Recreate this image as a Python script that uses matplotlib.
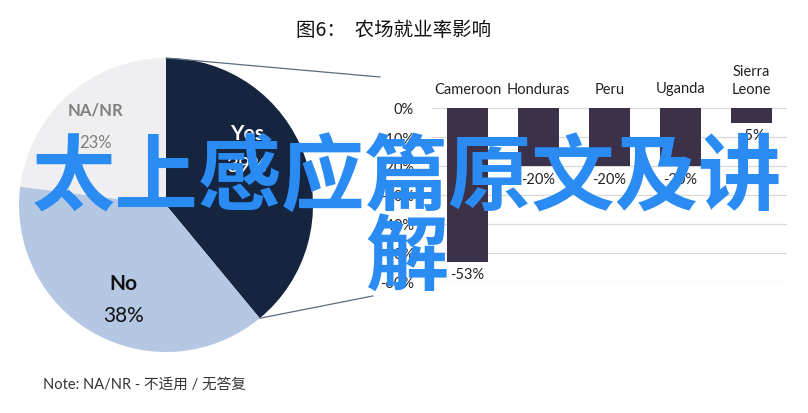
import matplotlib.pyplot as plt
from matplotlib.patches import ConnectionPatch
import numpy as np

plt.rcParams['font.family'] = ['Lato', 'Noto Sans CJK SC', 'DejaVu Sans']

pie_labels = ["Yes", "No", "NA/NR"]
pie_values = [39, 38, 23]
pie_colors = ["#15253f", "#b5c8e3", "#efeff1"]

countries = ["Cameroon", "Honduras", "Peru", "Uganda", "Sierra\nLeone"]
impact = [-53, -20, -20, -20, -5]
yticks = [0, -10, -20, -30, -40, -50, -60]

W, H = 808, 414
fig = plt.figure(figsize=(W / 100, H / 100), dpi=100)

# pie
cx, cy, r = 166, 206, 147
ax_pie = fig.add_axes([(cx - r) / W, (H - cy - r) / H, 2 * r / W, 2 * r / H])
wedges, _ = ax_pie.pie(pie_values, colors=pie_colors, startangle=90, counterclock=False,
                       radius=1, wedgeprops=dict(linewidth=0))
ax_pie.set_xlim(-1, 1)
ax_pie.set_ylim(-1, 1)
ax_pie.set_aspect('equal')
ax_pie.axis('off')

txt_style = {
    "Yes": dict(color="white", pos=(0.55, 0.40), fs=15),
    "No": dict(color="#111111", pos=(-0.29, -0.62), fs=15),
    "NA/NR": dict(color="#7f7f7f", pos=(-0.48, 0.56), fs=12),
}
for lab, val in zip(pie_labels, pie_values):
    s = txt_style[lab]
    x, y = s["pos"]
    ax_pie.text(x, y + 0.09, lab, ha='center', va='center', fontsize=s["fs"],
                fontweight='bold', color=s["color"])
    ax_pie.text(x, y - 0.13, f"{val}%", ha='center', va='center', fontsize=s["fs"],
                color=s["color"])

# bars
bl, bt, bw, bh = 432, 109, 355, 174
ax_bar = fig.add_axes([bl / W, (H - bt - bh) / H, bw / W, bh / H])
xs = np.arange(len(countries))
ax_bar.bar(xs, impact, width=0.58, color="#3b3148", zorder=3)
ax_bar.set_xlim(-0.5, len(countries) - 0.5)
ax_bar.set_ylim(-60, 0)
ax_bar.set_yticks(yticks)
ax_bar.set_yticklabels([f"{v}%" for v in yticks], fontsize=10.5, color="#222222")
ax_bar.yaxis.grid(True, color="#d9d9d9", linewidth=0.9, zorder=0)
ax_bar.xaxis.tick_top()
ax_bar.set_xticks(xs)
ax_bar.set_xticklabels(countries, fontsize=10.5, color="#222222", linespacing=1.3)
ax_bar.tick_params(length=0, axis='x', pad=9)
ax_bar.tick_params(length=0, axis='y', pad=13)
for s in ax_bar.spines.values():
    s.set_visible(False)
for x, v in zip(xs, impact):
    ax_bar.annotate(f"{v}%", (x, v), xytext=(0, -4), textcoords='offset points',
                    ha='center', va='top', fontsize=10.5, color="#222222")

# connector lines from pie to bar chart
a0 = np.deg2rad(90)
a1 = np.deg2rad(90 - 360 * pie_values[0] / sum(pie_values))
for ang, target in [(a0, (-0.146, 1.178)), (a1, (-0.166, -0.08))]:
    con = ConnectionPatch(xyA=(np.cos(ang), np.sin(ang)), coordsA=ax_pie.transData,
                          xyB=target, coordsB=ax_bar.transAxes,
                          color="#5d6b80", linewidth=0.9)
    fig.add_artist(con)

fig.text(394 / W, 1 - 30 / H, "图6：  农场就业率影响", ha='center', va='center',
         fontsize=14, color="#111111", family=['Noto Sans CJK SC', 'DejaVu Sans'])
fig.text(43 / W, 1 - 385 / H, "Note: NA/NR - 不适用 / 无答复", ha='left', va='center',
         fontsize=10.5, color="#333333")

# overlay caption
fig.text(407 / W, 1 - 220 / H, "太上感应篇原文及讲\n解", ha='center', va='center',
         fontsize=60, color="#2a8cf2", fontweight='bold', linespacing=0.93,
         family=['Noto Sans CJK SC', 'DejaVu Sans'], zorder=10)

fig.savefig("out.png", dpi=100)
